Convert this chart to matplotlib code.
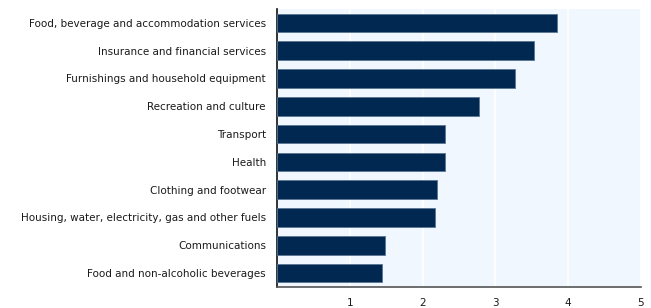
import matplotlib
matplotlib.use("Agg")
import matplotlib.pyplot as plt

categories = [
    "Food, beverage and accommodation services",
    "Insurance and financial services",
    "Furnishings and household equipment",
    "Recreation and culture",
    "Transport",
    "Health",
    "Clothing and footwear",
    "Housing, water, electricity, gas and other fuels",
    "Communications",
    "Food and non-alcoholic beverages",
]
values = [3.85, 3.53, 3.27, 2.77, 2.31, 2.31, 2.20, 2.17, 1.48, 1.44]
xticks = [1, 2, 3, 4, 5]

fig = plt.figure(figsize=(6.51, 3.08), dpi=100)
ax = fig.add_axes([277/651, 21/308, 364/651, 278/308])
ax.set_facecolor("#F0F7FE")

ypos = list(range(len(categories)))
ax.barh(ypos, values, height=0.67, color="#002850", edgecolor="#5a7593", linewidth=0.6, zorder=3)
ax.set_yticks(ypos)
ax.set_yticklabels(categories, fontsize=7.5, color="#1a1a1a")
ax.set_ylim(len(categories) - 0.5, -0.5)
ax.set_xlim(0, 5)
ax.set_xticks(xticks)
ax.set_xticklabels([str(t) for t in xticks], fontsize=7.5, color="#1a1a1a")
ax.tick_params(axis="x", length=0, pad=8)
ax.tick_params(axis="y", length=0, pad=8)
ax.grid(axis="x", color="white", linewidth=1.2, zorder=1)
ax.set_axisbelow(True)
for s in ["top", "right"]:
    ax.spines[s].set_visible(False)
ax.spines["left"].set_color("#111111")
ax.spines["left"].set_linewidth(1.2)
ax.spines["bottom"].set_color("#555555")
ax.spines["bottom"].set_linewidth(1.2)

fig.savefig("out.png", dpi=100)
